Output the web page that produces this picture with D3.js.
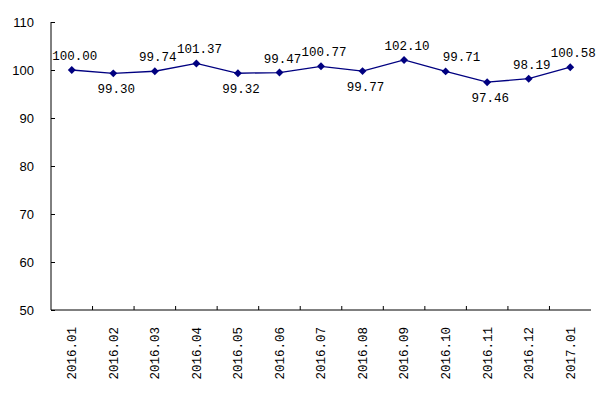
<!DOCTYPE html>
<html>
<head>
    <style>
        body { margin: 0; background: #fff; }
        .axis text { font: 13px "Liberation Sans", Arial, sans-serif; fill: #000; }
        .xaxis text { font: 12.5px "Liberation Mono", monospace; }
        .axis path, .axis line { stroke: #000; }
        .label { font: 12.5px "Liberation Mono", monospace; fill: #000; text-anchor: middle; }
    </style>
    <script src="https://d3js.org/d3.v7.min.js"></script>
</head>
<body>
    <svg width="611" height="393"></svg>
    <script>
    var months = ["2016.01", "2016.02", "2016.03", "2016.04", "2016.05", "2016.06", "2016.07",
                  "2016.08", "2016.09", "2016.10", "2016.11", "2016.12", "2017.01"];
    var values = [100.00, 99.30, 99.74, 101.37, 99.32, 99.47, 100.77, 99.77, 102.10, 99.71, 97.46, 98.19, 100.58];
    var yTicks = [50, 60, 70, 80, 90, 100, 110];
    // where each value label sits relative to its point
    var labelSide = ["up", "down", "up", "up", "down", "up", "up", "down", "up", "upright", "down", "up", "up"];

    function lineChart() {
        var svg = d3.select("svg"),
            left = 51, top = 22, right = 591, bottom = 310;

        var x = d3.scaleBand().domain(months).range([left, right]);
        var y = d3.scaleLinear().domain([50, 110]).range([bottom, top]);

        svg.append("g")
           .attr("class", "axis")
           .attr("transform", "translate(" + left + ",0)")
           .call(d3.axisLeft(y).tickValues(yTicks).tickSize(-4).tickPadding(17))
           .call(function(g) { g.select(".domain").attr("d", "M0," + bottom + "V" + top); });

        var xAxis = svg.append("g")
           .attr("class", "axis xaxis")
           .attr("transform", "translate(0," + bottom + ")")
           .call(d3.axisBottom(x).tickSize(0).tickPadding(0));
        xAxis.select(".domain").attr("d", "M" + left + ",0H" + right);
        xAxis.selectAll(".tick line").remove();
        xAxis.selectAll(".tick text")
             .attr("transform", "rotate(-90)")
             .attr("text-anchor", "end")
             .attr("x", -17)
             .attr("y", 0)
             .attr("dy", "0.35em");
        // category boundary ticks pointing inward
        xAxis.selectAll(".sep")
             .data(months.slice(1))
             .enter().append("line")
             .attr("class", "sep")
             .attr("x1", function(d) { return x(d); })
             .attr("x2", function(d) { return x(d); })
             .attr("y1", 0).attr("y2", -4);

        var line = d3.line()
                     .x(function(d, i) { return x(months[i]) + x.bandwidth() / 2; })
                     .y(function(d) { return y(d); });

        svg.append("path")
           .datum(values)
           .attr("d", line)
           .attr("fill", "none")
           .attr("stroke", "#000080")
           .attr("stroke-width", 1.3);

        var sym = d3.symbol().type(d3.symbolDiamond2).size(40);
        svg.selectAll(".pt")
           .data(values)
           .enter().append("path")
           .attr("class", "pt")
           .attr("d", sym)
           .attr("fill", "#000080")
           .attr("transform", function(d, i) {
               return "translate(" + (x(months[i]) + x.bandwidth() / 2) + "," + y(d) + ")";
           });

        svg.selectAll(".label")
           .data(values)
           .enter().append("text")
           .attr("class", "label")
           .attr("x", function(d, i) {
               var cx = x(months[i]) + x.bandwidth() / 2;
               return labelSide[i] === "upright" ? cx + 16 : cx + 3;
           })
           .attr("y", function(d, i) {
               return labelSide[i] === "down" ? y(d) + 20 : y(d) - 10;
           })
           .text(function(d) { return d.toFixed(2); });
    }
    lineChart();
    </script>
</body>
</html>
